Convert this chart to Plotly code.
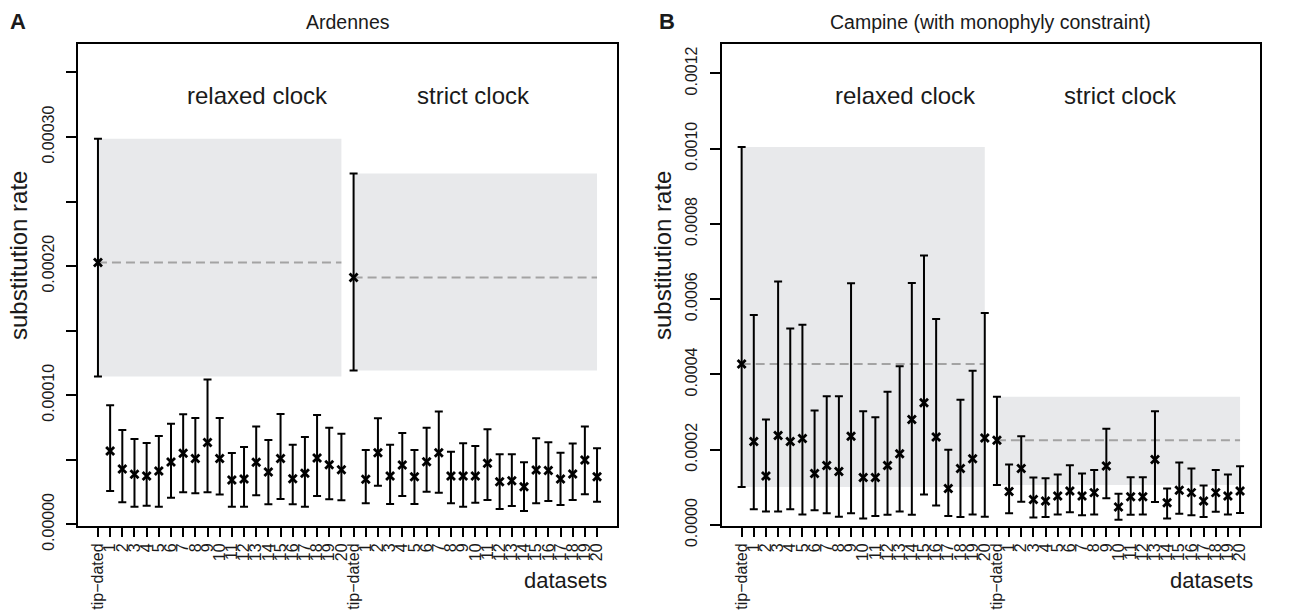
import plotly.graph_objects as go

# ---------------- data ----------------
tick_labels = ["tip\u2212dated"] + [str(i) for i in range(1, 21)]

# Panel A (Ardennes), values in units of 1e-5 substitutions/site/year
a_relaxed_mean = [20.28, 5.68, 4.29, 3.88, 3.74, 4.13, 4.83, 5.50, 5.09, 6.33, 5.09,
                  3.43, 3.51, 4.81, 4.05, 5.09, 3.53, 3.95, 5.14, 4.62, 4.23]
a_relaxed_lo = [11.44, 2.58, 1.71, 1.36, 1.44, 1.36, 2.06, 2.48, 2.40, 2.48, 2.30,
                1.36, 1.36, 2.25, 1.55, 1.96, 1.55, 1.36, 2.19, 1.94, 1.86]
a_relaxed_hi = [29.87, 9.22, 7.31, 6.61, 6.30, 6.84, 7.78, 8.53, 8.24, 11.21, 8.24,
                5.53, 5.99, 7.57, 6.53, 8.55, 6.17, 6.77, 8.47, 7.47, 7.02]
a_strict_mean = [19.12, 3.49, 5.55, 3.74, 4.60, 3.69, 4.85, 5.55, 3.74, 3.74, 3.74,
                 4.73, 3.30, 3.38, 2.91, 4.21, 4.16, 3.51, 3.90, 4.98, 3.69]
a_strict_lo = [11.91, 1.63, 2.99, 1.57, 2.19, 1.57, 2.53, 2.45, 1.63, 1.36, 1.67,
               1.88, 1.19, 1.42, 1.03, 1.63, 1.81, 1.50, 1.88, 2.33, 1.75]
a_strict_hi = [27.18, 5.76, 8.22, 6.17, 7.08, 5.76, 7.47, 8.73, 5.63, 6.28, 6.07,
               7.36, 5.43, 5.43, 4.81, 6.67, 6.36, 5.55, 6.25, 7.57, 5.89]
A_SCALE = 1e-5

# Panel B (Campine, with monophyly constraint), values in units of 1e-4
b_relaxed_mean = [4.28, 2.22, 1.30, 2.38, 2.22, 2.30, 1.37, 1.58, 1.42, 2.36, 1.26,
                  1.26, 1.58, 1.89, 2.80, 3.25, 2.34, 0.97, 1.50, 1.76, 2.31]
b_relaxed_lo = [1.01, 0.42, 0.36, 0.36, 0.42, 0.28, 0.39, 0.31, 0.22, 0.31, 0.17,
                0.24, 0.27, 0.36, 0.27, 0.81, 0.52, 0.24, 0.21, 0.28, 0.22]
b_relaxed_hi = [10.04, 5.58, 2.80, 6.47, 5.22, 5.32, 3.04, 3.42, 3.42, 6.42, 3.02,
                2.86, 3.54, 4.22, 6.43, 7.16, 5.47, 2.00, 3.33, 4.10, 5.63]
b_strict_mean = [2.25, 0.89, 1.50, 0.68, 0.64, 0.77, 0.90, 0.77, 0.86, 1.57, 0.48,
                 0.75, 0.75, 1.74, 0.59, 0.92, 0.86, 0.64, 0.86, 0.77, 0.90]
b_strict_lo = [1.06, 0.31, 0.62, 0.20, 0.21, 0.28, 0.34, 0.26, 0.28, 0.71, 0.14,
               0.27, 0.28, 0.61, 0.17, 0.30, 0.26, 0.21, 0.35, 0.28, 0.32]
b_strict_hi = [3.41, 1.61, 2.36, 1.26, 1.24, 1.34, 1.59, 1.37, 1.46, 2.56, 0.83,
               1.27, 1.27, 3.02, 0.97, 1.66, 1.50, 1.05, 1.46, 1.34, 1.56]
B_SCALE = 1e-4

a_yticks = [0.0, 0.00005, 0.0001, 0.00015, 0.0002, 0.00025, 0.0003, 0.00035]
a_yticktext = ["0.00000", "", "0.00010", "", "0.00020", "", "0.00030", ""]
b_yticks = [0.0, 0.0002, 0.0004, 0.0006, 0.0008, 0.0010, 0.0012]
b_yticktext = ["0.0000", "0.0002", "0.0004", "0.0006", "0.0008", "0.0010", "0.0012"]

# ---------------- figure ----------------
W, H = 1295, 611
FONT = "Liberation Sans, Arial, Helvetica, sans-serif"
TXT = "#1a1a1a"
GRAYFILL = "#E8E9EB"
DASHCOL = "#A3A3A3"

fig = go.Figure()

n = len(tick_labels)
xs_relaxed = list(range(n))
xs_strict = list(range(n, 2 * n))


def add_panel(fig, xa, ya, rm, rl, rh, sm, sl, sh, scale):
    for xs, m, lo, hi in [(xs_relaxed, rm, rl, rh), (xs_strict, sm, sl, sh)]:
        mv = [v * scale for v in m]
        lov = [v * scale for v in lo]
        hiv = [v * scale for v in hi]
        # shaded tip-dated HPD region and its mean
        fig.add_shape(type="rect", xref=xa, yref=ya, x0=xs[0], x1=xs[-1],
                      y0=lov[0], y1=hiv[0], fillcolor=GRAYFILL,
                      line=dict(width=0), layer="below")
        fig.add_shape(type="line", xref=xa, yref=ya, x0=xs[0], x1=xs[-1],
                      y0=mv[0], y1=mv[0],
                      line=dict(color=DASHCOL, width=2, dash="9px,5px"),
                      layer="below")
        fig.add_trace(go.Scatter(
            x=xs, y=mv, xaxis=xa, yaxis=ya, mode="markers",
            marker=dict(symbol="x-thin", size=8, color="black",
                        line=dict(width=2.8, color="black")),
            error_y=dict(type="data", symmetric=False,
                         array=[h - v for h, v in zip(hiv, mv)],
                         arrayminus=[v - l for v, l in zip(mv, lov)],
                         color="black", thickness=2, width=4),
            showlegend=False, hoverinfo="skip"))


add_panel(fig, "x", "y", a_relaxed_mean, a_relaxed_lo, a_relaxed_hi,
          a_strict_mean, a_strict_lo, a_strict_hi, A_SCALE)
add_panel(fig, "x2", "y2", b_relaxed_mean, b_relaxed_lo, b_relaxed_hi,
          b_strict_mean, b_strict_lo, b_strict_hi, B_SCALE)

ybot = (H - 526) / H
ytop = (H - 44) / H
axA = [78 / W, 617 / W]
axB = [721.7 / W, 1260 / W]

xcommon = dict(range=[-1.64, 42.64], tickmode="array",
               tickvals=list(range(2 * n)), ticktext=tick_labels * 2,
               tickangle=-90, ticks="outside", ticklen=9, tickwidth=1.6,
               tickcolor="black", showline=True, linecolor="black", linewidth=2,
               mirror=True, showgrid=False, zeroline=False, automargin=False,
               tickfont=dict(family=FONT, size=16, color=TXT),
               ticklabelstandoff=0)
ycommon = dict(tickmode="array", tickangle=-90, ticks="outside", ticklen=10,
               tickwidth=1.6, tickcolor="black", showline=True, linecolor="black",
               linewidth=2, mirror=True, showgrid=False, zeroline=False,
               automargin=False,
               tickfont=dict(family=FONT, size=16, color=TXT),
               ticklabelstandoff=6)

fig.update_layout(
    template="none",
    width=W, height=H, autosize=False,
    margin=dict(l=0, r=0, t=0, b=0, pad=0),
    paper_bgcolor="white", plot_bgcolor="white",
    xaxis=dict(domain=axA, anchor="y", **xcommon),
    yaxis=dict(domain=[ybot, ytop], anchor="x", range=[-0.0000013, 0.000372],
               tickvals=a_yticks, ticktext=a_yticktext, **ycommon),
    xaxis2=dict(domain=axB, anchor="y2", **xcommon),
    yaxis2=dict(domain=[ybot, ytop], anchor="x2", range=[-0.0000027, 0.001278],
                tickvals=b_yticks, ticktext=b_yticktext, **ycommon),
)


def ann(text, x, y, size, **kw):
    d = dict(text=text, x=x / W, y=(H - y) / H, xref="paper", yref="paper",
             showarrow=False, font=dict(family=FONT, size=size, color=TXT),
             xanchor="center", yanchor="middle")
    d.update(kw)
    return d


annotations = [
    ann("<b>A</b>", 18, 22, 22),
    ann("<b>B</b>", 667, 22, 22),
    ann("Ardennes", (78 + 617) / 2, 22, 19.5),
    ann("Campine (with monophyly constraint)", (721.7 + 1260) / 2, 22, 19.5),
    ann("relaxed clock", 257, 96, 24),
    ann("strict clock", 473, 96, 24),
    ann("relaxed clock", 905, 96, 24),
    ann("strict clock", 1120, 96, 24),
    ann("substitution rate", 19, 256, 24, textangle=-90),
    ann("substitution rate", 663, 256, 24, textangle=-90),
    ann("datasets", 565, 580, 22),
    ann("datasets", 1211, 580, 22),
]
fig.update_layout(annotations=annotations)

fig.write_html("out.html", config={"displayModeBar": False},
               post_script="document.body.style.margin='0';")
